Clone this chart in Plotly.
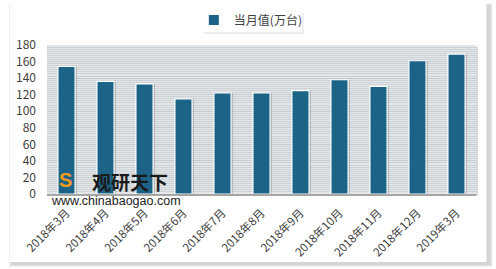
import plotly.graph_objects as go

categories = ["2018年3月", "2018年4月", "2018年5月", "2018年6月", "2018年7月", "2018年8月",
              "2018年9月", "2018年10月", "2018年11月", "2018年12月", "2019年3月"]
values = [154, 136, 133, 115, 122, 122, 125, 138, 130, 161, 169]
series_name = "当月值(万台)"
y_ticks = [0, 20, 40, 60, 80, 100, 120, 140, 160, 180]

W, H = 496, 269
L, R, T, B = 47, 19.5, 45, 75
PW, PH = W - L - R, H - T - B
bar_color = "#1b6487"
font_family = "Noto Sans CJK SC, Liberation Sans, sans-serif"

fig = go.Figure()
# drop shadow of bars
fig.add_trace(go.Bar(
    x=categories, y=values, width=0.46, offset=-0.19,
    marker=dict(color="rgba(60,60,60,0.22)", line=dict(width=0)),
    showlegend=False, hoverinfo="skip"))
fig.add_trace(go.Bar(
    x=categories, y=values, name=series_name, width=0.44, offset=-0.22,
    marker=dict(color=bar_color, line=dict(color="white", width=1.2))))

def px_x(v):
    return (v - L) / PW

def px_y(v):
    return (H - B - v) / PH

shapes = []
# card shadow
for i, c in enumerate(["#f0f0f0", "#e2e2e2", "#d4d4d4"]):
    d = 3 - i
    shapes.append(dict(type="rect", xref="paper", yref="paper", layer="below",
                       x0=px_x(10 - d + 2), x1=px_x(489 + d + 1), y0=px_y(264 + d), y1=px_y(4 - d + 2),
                       line=dict(width=0), fillcolor=c))
# card
shapes.append(dict(type="rect", xref="paper", yref="paper", layer="below",
                   x0=px_x(10), x1=px_x(487), y0=px_y(262), y1=px_y(3),
                   line=dict(width=0), fillcolor="white"))
# legend box shadow & box
shapes.append(dict(type="rect", xref="paper", yref="paper", layer="below",
                   x0=px_x(204), x1=px_x(304), y0=px_y(34), y1=px_y(13),
                   line=dict(width=0), fillcolor="#ececec"))
shapes.append(dict(type="rect", xref="paper", yref="paper", layer="below",
                   x0=px_x(202), x1=px_x(302), y0=px_y(32), y1=px_y(11),
                   line=dict(width=0), fillcolor="white"))
# plot area shadow + background
shapes.append(dict(type="rect", xref="paper", yref="paper", layer="below",
                   x0=px_x(49), x1=px_x(478.5), y0=px_y(196), y1=px_y(47),
                   line=dict(width=0), fillcolor="#d8d8d8"))
shapes.append(dict(type="rect", xref="paper", yref="paper", layer="below",
                   x0=0, x1=1, y0=0, y1=1, line=dict(width=0), fillcolor="#e3e6e9"))

fig.update_layout(
    width=W, height=H,
    margin=dict(l=L, r=R, t=T, b=B, pad=0, autoexpand=False),
    paper_bgcolor="white",
    plot_bgcolor="rgba(0,0,0,0)",
    barmode="overlay",
    font=dict(family=font_family, color="#404040", size=12),
    shapes=shapes,
    showlegend=True,
    legend=dict(orientation="h", x=px_x(194), xanchor="left", y=px_y(20), yanchor="middle",
                bgcolor="rgba(0,0,0,0)", font=dict(size=12, color="#404040"),
                itemwidth=30, itemsizing="constant"),
    xaxis=dict(tickangle=-45, showgrid=False, showline=True, linecolor="#a6a6a6", linewidth=1.5,
               tickfont=dict(size=11.5, color="#404040"), ticks="", ticklabelstandoff=6,
               automargin=False, fixedrange=True),
    yaxis=dict(range=[0, 180], tickvals=y_ticks, showgrid=True, gridcolor="#c6cbd0", gridwidth=1,
               minor=dict(dtick=2.5, showgrid=True, gridcolor="#cdd2d6", gridwidth=1),
               zeroline=False, showline=False, ticks="", ticklabelstandoff=10,
               automargin=False, tickfont=dict(size=12, color="#404040"), fixedrange=True),
    annotations=[
        dict(xref="paper", yref="paper", x=px_x(90), y=px_y(181), xanchor="left", yanchor="middle",
             text="<b>观研天下</b>", showarrow=False, font=dict(size=19, color="#1a1a1a", family=font_family)),
        dict(xref="paper", yref="paper", x=px_x(49), y=px_y(201), xanchor="left", yanchor="middle",
             text="www.chinabaogao.com", showarrow=False,
             font=dict(size=12.5, color="#222222", family="Liberation Sans, sans-serif")),
        dict(xref="paper", yref="paper", x=px_x(66), y=px_y(180), xanchor="center", yanchor="middle",
             text="<b>S</b>", showarrow=False,
             font=dict(size=20, color="#f39a1e", family="Liberation Sans, sans-serif")),
    ],
)

fig.write_html("out.html")
